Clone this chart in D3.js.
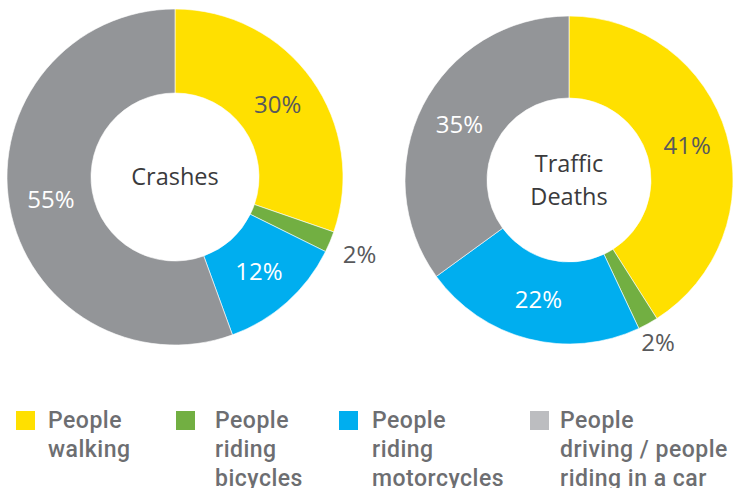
<!DOCTYPE html>
<html>
<head>
<meta charset="utf-8">
<script src="https://cdn.jsdelivr.net/npm/d3@7"></script>
<style>
  body { margin: 0; background: #fff; }
  svg { display: block; }
</style>
</head>
<body>
<svg id="chart" width="735" height="488"></svg>
<script>
var categories = ["walking", "bicycles", "motorcycles", "car"];
var crashValues = [30, 2, 12, 55];
var deathValues = [41, 2, 22, 35];
var legendLines = [
  ["People", "walking"],
  ["People", "riding", "bicycles"],
  ["People", "riding", "motorcycles"],
  ["People", "driving / people", "riding in a car"]
];
var centerTitles = [["Crashes"], ["Traffic", "Deaths"]];

var sliceColor = d3.scaleOrdinal().domain(categories)
  .range(["#ffe000", "#72af42", "#00aeef", "#939598"]);
var keyColor = d3.scaleOrdinal().domain(categories)
  .range(["#ffe000", "#72af42", "#00aeef", "#bcbdc0"]);
var labelColor = d3.scaleOrdinal().domain(categories)
  .range(["#58595b", "#58595b", "#ffffff", "#ffffff"]);

var svg = d3.select("#chart");

var charts = [
  { values: crashValues, title: centerTitles[0], cx: 175, cy: 177, outer: 168, inner: 84, outLabel: 200 },
  { values: deathValues, title: centerTitles[1], cx: 569, cy: 180, outer: 164, inner: 82, outLabel: 185 }
];

var pie = d3.pie().sort(null).value(function (d) { return d.v; });

charts.forEach(function (c) {
  var data = categories.map(function (k, i) { return { k: k, v: c.values[i] }; });
  var arcs = pie(data);
  var arc = d3.arc().innerRadius(c.inner).outerRadius(c.outer);
  var outArc = d3.arc().innerRadius(c.outLabel).outerRadius(c.outLabel);

  var g = svg.append("g").attr("transform", "translate(" + c.cx + "," + c.cy + ")");

  g.selectAll("path")
    .data(arcs)
    .enter()
    .append("path")
    .attr("d", arc)
    .attr("fill", function (d) { return sliceColor(d.data.k); })
    .attr("stroke", "#ffffff")
    .attr("stroke-width", 0.6);

  g.selectAll("text.pct")
    .data(arcs)
    .enter()
    .append("text")
    .attr("class", "pct")
    .attr("transform", function (d) {
      var p = d.data.v < 5 ? outArc.centroid(d) : arc.centroid(d);
      return "translate(" + p[0] + "," + p[1] + ")";
    })
    .attr("text-anchor", "middle")
    .attr("dy", "0.36em")
    .attr("font-family", "'Open Sans', sans-serif")
    .attr("font-size", 24)
    .attr("fill", function (d) { return d.data.v < 5 ? "#58595b" : labelColor(d.data.k); })
    .text(function (d) { return d.data.v + "%"; });

  var lh = 33;
  g.selectAll("text.title")
    .data(c.title)
    .enter()
    .append("text")
    .attr("class", "title")
    .attr("text-anchor", "middle")
    .attr("y", function (d, i) { return (i - (c.title.length - 1) / 2) * lh; })
    .attr("dy", "0.36em")
    .attr("font-family", "'Open Sans', sans-serif")
    .attr("font-size", 23.5)
    .attr("fill", "#3a3a3c")
    .text(function (d) { return d; });
});

// legend
var keyX = d3.scaleOrdinal().domain(categories).range([16, 176, 339, 530]);
var textX = d3.scaleOrdinal().domain(categories).range([48, 215, 372, 560]);

var items = svg.selectAll("g.key")
  .data(categories)
  .enter()
  .append("g")
  .attr("class", "key");

items.append("rect")
  .attr("x", function (d) { return keyX(d); })
  .attr("y", 411)
  .attr("width", 19)
  .attr("height", 19)
  .attr("fill", function (d) { return keyColor(d); });

items.each(function (d, i) {
  d3.select(this).selectAll("text")
    .data(legendLines[i])
    .enter()
    .append("text")
    .attr("x", textX(d))
    .attr("y", function (t, j) { return 428 + j * 29; })
    .attr("font-family", "Roboto, sans-serif")
    .attr("font-weight", 500)
    .attr("font-size", 23)
    .attr("letter-spacing", 0.5)
    .attr("fill", "#6d6e71")
    .text(function (t) { return t; });
});
</script>
</body>
</html>
